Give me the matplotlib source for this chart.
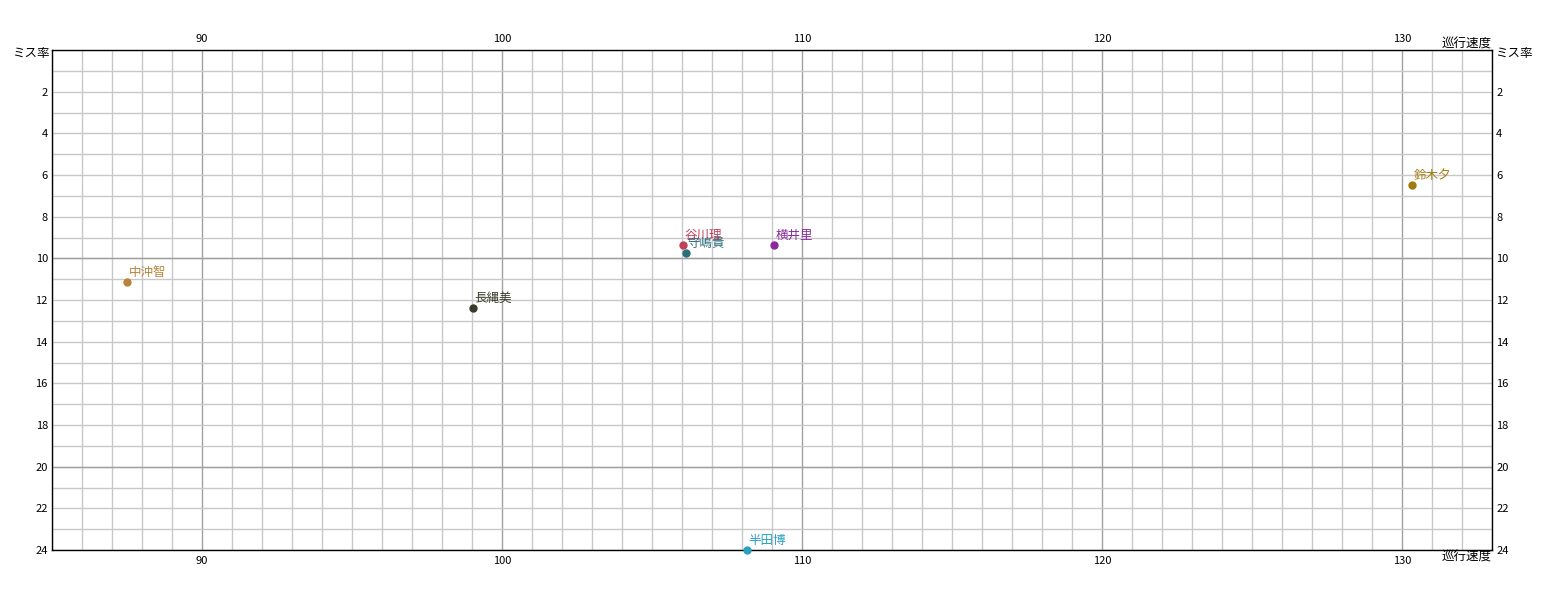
import matplotlib
matplotlib.use("Agg")
import matplotlib.pyplot as plt
from matplotlib.ticker import MultipleLocator

plt.rcParams["font.family"] = ["Noto Sans CJK JP", "DejaVu Sans"]

nombres = ["鈴木夕", "谷川理", "守嶋貴", "横井里", "中沖智", "長縄美", "半田博"]
velocidad = [130.33, 106.03, 106.13, 109.07, 87.5, 99.03, 108.17]
tasa_error = [6.48, 9.36, 9.75, 9.36, 11.14, 12.39, 24.0]
colores = ["#a07a10", "#c0405a", "#2a6e7a", "#8a2a9a", "#b8843a", "#3a3a2a", "#2aa0c0"]

x_ticks = [90, 100, 110, 120, 130]
y_ticks = [2, 4, 6, 8, 10, 12, 14, 16, 18, 20, 22, 24]
y_mayores = [10, 20]

fig = plt.figure(figsize=(15.45, 6), dpi=100)
ax = fig.add_axes([52 / 1545, 50 / 600, 1440 / 1545, 500 / 600])

ax.set_xlim(85, 133)
ax.set_ylim(24, 0)

ax.xaxis.set_minor_locator(MultipleLocator(1))
ax.yaxis.set_minor_locator(MultipleLocator(1))
ax.set_xticks(x_ticks)
ax.set_yticks(y_ticks)
ax.grid(which="minor", color="#c8c8c8", linewidth=1)
ax.grid(which="major", axis="y", color="#c8c8c8", linewidth=1)
ax.grid(which="major", axis="x", color="#a0a0a0", linewidth=1)
for yv in y_mayores:
    ax.axhline(yv, color="#a0a0a0", linewidth=1, zorder=0.6)
ax.set_axisbelow(True)

ax.tick_params(which="both", length=0, labelsize=8)
ax.tick_params(axis="x", top=True, labeltop=True, pad=4)
ax.tick_params(axis="y", right=True, labelright=True, pad=3)
for s in ax.spines.values():
    s.set_color("black")
    s.set_linewidth(1)

for n, x, y, c in zip(nombres, velocidad, tasa_error, colores):
    ax.plot(x, y, "o", color=c, markersize=5, clip_on=False, zorder=3)
    ax.annotate(n, (x, y), xytext=(1, 2), textcoords="offset points",
                color=c, fontsize=9, ha="left", va="bottom", zorder=4)

# etiquetas de ejes
fig.text(50 / 1545, 1 - 54 / 600, "ミス率", ha="right", va="center", fontsize=9)
fig.text(1495 / 1545, 1 - 54 / 600, "ミス率", ha="left", va="center", fontsize=9)
fig.text(1492 / 1545, 1 - 44 / 600, "巡行速度", ha="right", va="center", fontsize=9)
fig.text(1492 / 1545, 1 - 557 / 600, "巡行速度", ha="right", va="center", fontsize=9)

fig.savefig("out.png", dpi=100)
